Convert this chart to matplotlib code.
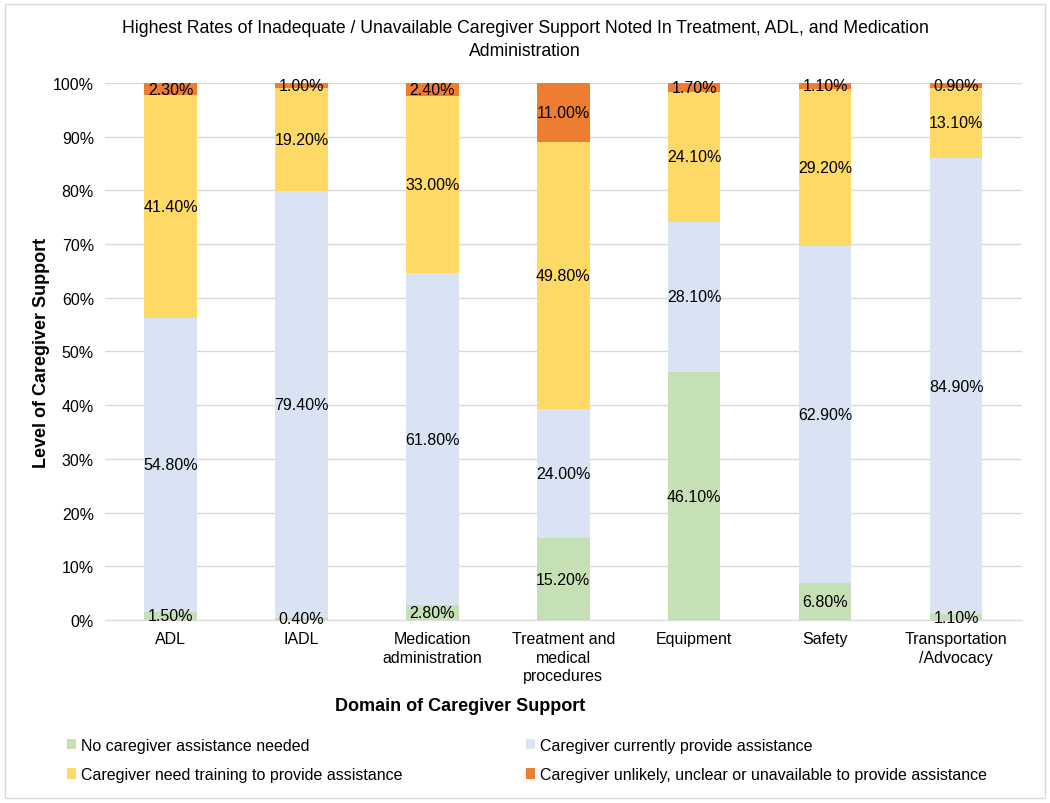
import numpy as np
import matplotlib.pyplot as plt
from matplotlib.patches import Rectangle

plt.rcParams['font.family'] = ['Liberation Sans', 'DejaVu Sans']

# data
domains = ['ADL', 'IADL', 'Medication\nadministration', 'Treatment and\nmedical\nprocedures',
           'Equipment', 'Safety', 'Transportation\n/Advocacy']
no_need = [1.5, 0.4, 2.8, 15.2, 46.1, 6.8, 1.1]
currently = [54.8, 79.4, 61.8, 24.0, 28.1, 62.9, 84.9]
need_training = [41.4, 19.2, 33.0, 49.8, 24.1, 29.2, 13.1]
unlikely = [2.3, 1.0, 2.4, 11.0, 1.7, 1.1, 0.9]

series = [
    ('No caregiver assistance needed', no_need, '#C5E0B4'),
    ('Caregiver currently provide assistance', currently, '#DAE3F3'),
    ('Caregiver need training to provide assistance', need_training, '#FFD966'),
    ('Caregiver unlikely, unclear or unavailable to provide assistance', unlikely, '#ED7D31'),
]

fig = plt.figure(figsize=(10.5, 8.04), dpi=100)
ax = fig.add_axes([0.1, 0.2276, 0.873, 0.668])

x = np.arange(len(domains))
bottom = np.zeros(len(domains))
handles = []
for name, vals, color in series:
    vals = np.array(vals)
    bars = ax.bar(x, vals, 0.4, bottom=bottom, color=color, label=name, zorder=2)
    handles.append(bars)
    for xi, b, v in zip(x, bottom, vals):
        ax.text(xi, b + v / 2, f'{v:.2f}%', ha='center', va='center', fontsize=11.5, zorder=3)
    bottom += vals

ax.set_xlim(-0.5, len(domains) - 0.5)
ax.set_ylim(0, 100)
ax.set_yticks(np.arange(0, 101, 10))
ax.set_yticklabels([f'{t}%' for t in range(0, 101, 10)], fontsize=11.5)
ax.set_xticks(x)
ax.set_xticklabels(domains, fontsize=11.5, va='top', linespacing=1.3)
ax.tick_params(length=0, pad=8)
ax.yaxis.grid(True, color='#D9D9D9', linewidth=1, zorder=0)
for s in ['top', 'right', 'left']:
    ax.spines[s].set_visible(False)
ax.spines['bottom'].set_color('#D9D9D9')

ax.set_ylabel('Level of Caregiver Support', fontsize=13, fontweight='bold', labelpad=2)
fig.text(0.438, 0.121, 'Domain of Caregiver Support', fontsize=13, fontweight='bold',
         ha='center', va='center')
fig.text(0.5, 0.95, 'Highest Rates of Inadequate / Unavailable Caregiver Support Noted In Treatment, ADL, and Medication\nAdministration',
         fontsize=12.7, ha='center', va='center', linespacing=1.45)

# legend filled column-wise, so order to read row by row like the reference
order = [0, 2, 1, 3]
fig.legend(handles=[handles[i] for i in order], loc='lower left', bbox_to_anchor=(0.05, 0.008), ncol=2,
           frameon=False, fontsize=11.5, handlelength=0.6, handleheight=0.6, handletextpad=0.3,
           columnspacing=7.7, labelspacing=0.9)

fig.patches.append(Rectangle((0.005, 0.006), 0.99, 0.988, transform=fig.transFigure,
                             fill=False, edgecolor='#D9D9D9', linewidth=1))

fig.savefig('out.png', dpi=100)
